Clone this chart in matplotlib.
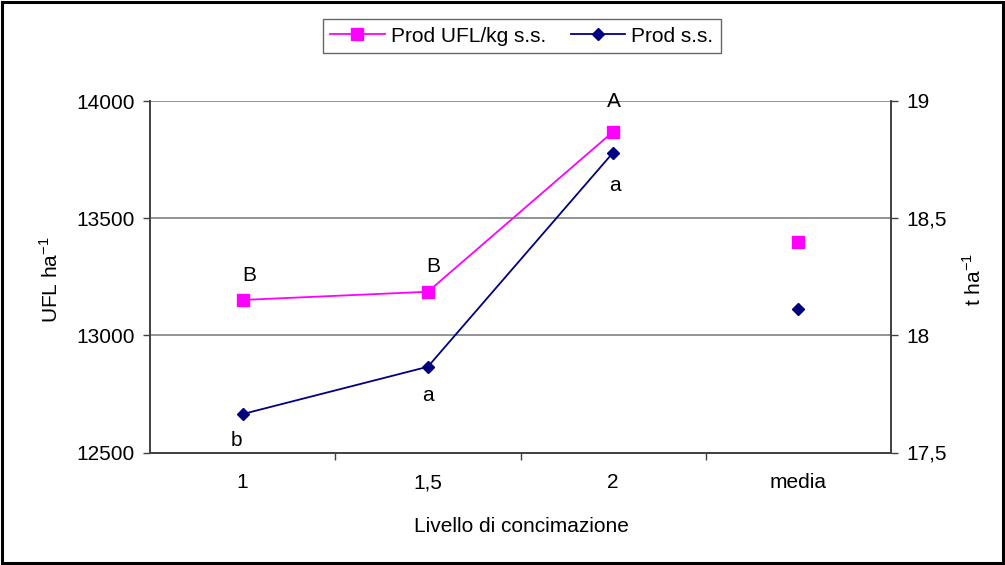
import matplotlib
matplotlib.use("Agg")
import matplotlib.pyplot as plt
from matplotlib.lines import Line2D
from matplotlib.patches import Rectangle
import numpy as np

plt.rcParams['font.family'] = ['Liberation Sans', 'DejaVu Sans']

# ---- data ----
categories = ['1', '1,5', '2', 'media']
prod_ufl = [13151, 13186, 13869, 13398]      # left axis, UFL ha-1
prod_ss = [17.664, 17.866, 18.78, 18.112]    # right axis, t ha-1
letters_ufl = ['B', 'B', 'A', '']
letters_ss = ['b', 'a', 'a', '']
left_ticks = [12500, 13000, 13500, 14000]
right_ticks = [17.5, 18, 18.5, 19]
right_ticklabels = ['17,5', '18', '18,5', '19']

MAG = '#FF00FF'
NAVY = '#000080'
FS = 15
W, H = 1005, 565

fig = plt.figure(figsize=(W/100, H/100), dpi=100)
ax = fig.add_axes([150/W, 1-452.5/H, (891-150)/W, (452.5-101)/H])
ax2 = ax.twinx()

x = np.arange(len(categories))
n_line = 3  # 'media' is drawn unconnected

ax.plot(x[:n_line], prod_ufl[:n_line], color=MAG, lw=1.3, zorder=3)
ax.plot(x, prod_ufl, ls='none', marker='s', ms=8.5, color=MAG, zorder=4)
ax2.plot(x[:n_line], prod_ss[:n_line], color=NAVY, lw=1.3, zorder=3)
ax2.plot(x, prod_ss, ls='none', marker='D', ms=6.2, color=NAVY, zorder=4)

ax.set_xlim(-0.5, len(categories) - 0.5)
ax.set_ylim(12500, 14000)
ax2.set_ylim(17.5, 19)

# x ticks: marks at category boundaries, labels at centres
ax.set_xticks(np.arange(0.5, len(categories) - 0.5, 1.0))
ax.set_xticklabels([])
ax.set_xticks(x, minor=True)
ax.set_xticklabels(categories, minor=True, fontsize=FS)
ax.tick_params(axis='x', which='major', length=5, width=1, color='#404040', direction='out')
ax.tick_params(axis='x', which='minor', length=0, pad=15)

ax.set_yticks(left_ticks)
ax.set_yticklabels([str(v) for v in left_ticks], fontsize=FS)
ax.tick_params(axis='y', length=5, width=1, color='#404040', pad=6)
ax2.set_yticks(right_ticks)
ax2.set_yticklabels(right_ticklabels, fontsize=FS)
ax2.tick_params(axis='y', length=5, width=1, color='#404040', pad=6)

ax.yaxis.grid(True, color='#808080', lw=1.2)
ax.set_axisbelow(True)

for a in (ax, ax2):
    a.spines['top'].set_visible(False)
    for s in ('left', 'right', 'bottom'):
        a.spines[s].set_color('#404040')
        a.spines[s].set_linewidth(1.2)

# axis titles
fig.text(50/W, 1-280/H, 'UFL ha$^{\\mathregular{-1}}$', fontsize=FS,
         rotation=90, ha='center', va='center')
fig.text(973/W, 1-280/H, 't ha$^{\\mathregular{-1}}$', fontsize=FS,
         rotation=90, ha='center', va='center')
fig.text(521/W, 1-527/H, 'Livello di concimazione', fontsize=FS,
         ha='center', va='center')

# significance letters (offsets in pixels)
px = 72 / 100
off_ufl = [(7, 24), (5, 25), (1, 30)]
off_ss = [(-6, -26), (0, -29), (2, -33)]
for i, (lt, o) in enumerate(zip(letters_ufl, off_ufl)):
    if lt:
        ax.annotate(lt, (x[i], prod_ufl[i]), xytext=(o[0]*px, o[1]*px),
                    textcoords='offset points', ha='center', va='center', fontsize=FS)
for i, (lt, o) in enumerate(zip(letters_ss, off_ss)):
    if lt:
        ax2.annotate(lt, (x[i], prod_ss[i]), xytext=(o[0]*px, o[1]*px),
                     textcoords='offset points', ha='center', va='center', fontsize=FS)

handles = [Line2D([], [], color=MAG, lw=1.3, marker='s', ms=8.5),
           Line2D([], [], color=NAVY, lw=1.3, marker='D', ms=6.2)]
leg = fig.legend(handles, ['Prod UFL/kg s.s.', 'Prod s.s.'], ncol=2,
                 loc='center', bbox_to_anchor=(522/W, 1-36/H),
                 fontsize=FS, frameon=True, fancybox=False, shadow=False,
                 handlelength=2.6, handletextpad=0.3, columnspacing=1.2,
                 borderpad=0.35, borderaxespad=0)
leg.get_frame().set_edgecolor('#404040')
leg.get_frame().set_linewidth(1.0)

fig.patches.append(Rectangle((0.002, 0.003), 0.996, 0.994, transform=fig.transFigure,
                             fill=False, edgecolor='black', lw=2.2))

fig.savefig('out.png', dpi=100)
